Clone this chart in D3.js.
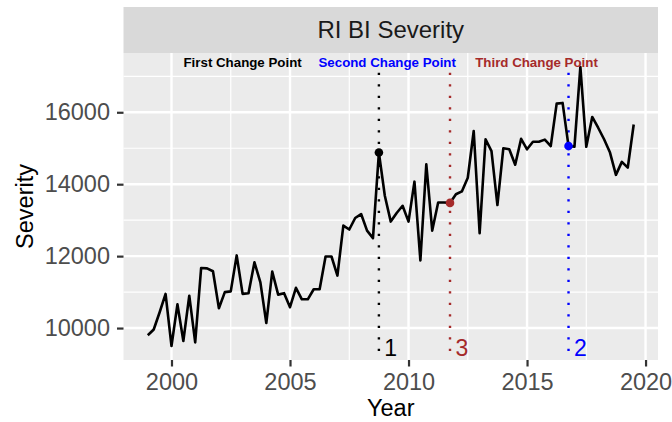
<!DOCTYPE html>
<html><head><meta charset="utf-8">
<script src="https://cdn.jsdelivr.net/npm/d3@7"></script>
<style>
body{margin:0;background:#fff}
svg{display:block}
text{font-family:"Liberation Sans",Arial,Helvetica,sans-serif}
</style>
</head><body>
<svg id="chart" width="672" height="422"></svg>
<script>
// ---- data ----
const years = [
  1999,1999.25,1999.5,1999.75, 2000,2000.25,2000.5,2000.75,
  2001,2001.25,2001.5,2001.75, 2002,2002.25,2002.5,2002.75,
  2003,2003.25,2003.5,2003.75, 2004,2004.25,2004.5,2004.75,
  2005,2005.25,2005.5,2005.75, 2006,2006.25,2006.5,2006.75,
  2007,2007.25,2007.5,2007.75, 2008,2008.25,2008.5,2008.75,
  2009,2009.25,2009.5,2009.75, 2010,2010.25,2010.5,2010.75,
  2011,2011.25,2011.5,2011.75, 2012,2012.25,2012.5,2012.75,
  2013,2013.25,2013.5,2013.75, 2014,2014.25,2014.5,2014.75,
  2015,2015.25,2015.5,2015.75, 2016,2016.25,2016.5,2016.75,
  2017,2017.25,2017.5,2017.75, 2018,2018.25,2018.5,2018.75,
  2019,2019.25,2019.5
];
const severity = [
  9800,9960,10440,10950, 9500,10660,9640,10900,
  9600,11670,11660,11580, 10550,11000,11020,12020,
  10950,10970,11830,11270, 10140,11570,10930,10970,
  10580,11120,10800,10800, 11080,11080,11990,11990,
  11460,12850,12740,13060, 13170,12710,12500,14880,
  13680,12960,13200,13400, 12960,14070,11880,14550,
  12710,13490,13490,13480, 13720,13800,14180,15480,
  12640,15250,14920,13420, 15000,14970,14540,15260,
  14970,15180,15180,15240, 15060,16240,16260,15060,
  15040,17260,15040,15870, 15570,15250,14880,14260,
  14620,14460,15660
];
const xTicks = [2000, 2005, 2010, 2015, 2020];
const xMinor = [2002.5, 2007.5, 2012.5, 2017.5];
const yTicks = [10000, 12000, 14000, 16000];
const yMinor = [11000, 13000, 15000, 17000];

const cpYears  = [2008.75, 2016.75, 2011.75];
const cpValues = [14880, 15060, 13480];
const cpLabels = ["1", "2", "3"];
const cpColors = ["#000000", "#0000FF", "#A52A2A"];
const cpTop = 17100;
const cpLabelValue = 9460;
const cpLabelShift = 0.5;

const noteTexts  = ["First Change Point", "Second Change Point", "Third Change Point"];
const noteYears  = [2003, 2009.1, 2015.4];
const noteColors = ["#000000", "#0000FF", "#A52A2A"];
const noteValue = 17390;

const title = "RI BI Severity";
const xTitle = "Year";
const yTitle = "Severity";

// ---- layout ----
const L = 123.5, R = 658, T = 53, B = 360, stripTop = 7;
const svg = d3.select("#chart");

const xe = d3.extent(years), xp = (xe[1] - xe[0]) * 0.05;
const ye = d3.extent(severity), yp = (ye[1] - ye[0]) * 0.05;
const x = d3.scaleLinear().domain([xe[0] - xp, xe[1] + xp]).range([L, R]);
const y = d3.scaleLinear().domain([ye[0] - yp, ye[1] + yp]).range([B, T]);

// strip
svg.append("rect").attr("x", L).attr("y", stripTop).attr("width", R - L).attr("height", T - stripTop).attr("fill", "#D9D9D9");
svg.append("text").attr("x", (L + R) / 2).attr("y", (stripTop + T) / 2).attr("dy", "0.35em")
  .attr("text-anchor", "middle").attr("font-size", 24).attr("fill", "#1A1A1A").text(title);

// panel
svg.append("rect").attr("x", L).attr("y", T).attr("width", R - L).attr("height", B - T).attr("fill", "#EBEBEB");

const grid = svg.append("g");
grid.selectAll(".xm").data(xMinor).join("line")
  .attr("x1", d => x(d)).attr("x2", d => x(d)).attr("y1", T).attr("y2", B)
  .attr("stroke", "#fff").attr("stroke-width", 1.2);
grid.selectAll(".ym").data(yMinor.filter(v => y(v) >= T && y(v) <= B)).join("line")
  .attr("y1", d => y(d)).attr("y2", d => y(d)).attr("x1", L).attr("x2", R)
  .attr("stroke", "#fff").attr("stroke-width", 1.2);
grid.selectAll(".xM").data(xTicks).join("line")
  .attr("x1", d => x(d)).attr("x2", d => x(d)).attr("y1", T).attr("y2", B)
  .attr("stroke", "#fff").attr("stroke-width", 2.4);
grid.selectAll(".yM").data(yTicks).join("line")
  .attr("y1", d => y(d)).attr("y2", d => y(d)).attr("x1", L).attr("x2", R)
  .attr("stroke", "#fff").attr("stroke-width", 2.4);

// change point segments
const cps = cpYears.map((yr, i) => ({yr, v: cpValues[i], lab: cpLabels[i], col: cpColors[i]}));
svg.append("g").selectAll("line").data(cps).join("line")
  .attr("x1", d => x(d.yr)).attr("x2", d => x(d.yr))
  .attr("y1", y(cpTop)).attr("y2", B)
  .attr("stroke", d => d.col).attr("stroke-width", 2.4)
  .attr("stroke-dasharray", "2.4 9.1");

// series line
const pts = years.map((yr, i) => ({yr, v: severity[i]}));
svg.append("path").datum(pts)
  .attr("d", d3.line().x(d => x(d.yr)).y(d => y(d.v)))
  .attr("fill", "none").attr("stroke", "#000").attr("stroke-width", 2.6)
  .attr("stroke-linejoin", "round");

// change point dots
svg.append("g").selectAll("circle").data(cps).join("circle")
  .attr("cx", d => x(d.yr)).attr("cy", d => y(d.v)).attr("r", 4.3)
  .attr("fill", d => d.col);

// change point numbers
svg.append("g").selectAll("text").data(cps).join("text")
  .attr("x", d => x(d.yr + cpLabelShift)).attr("y", y(cpLabelValue)).attr("dy", "0.35em")
  .attr("text-anchor", "middle").attr("font-size", 23).attr("fill", d => d.col)
  .text(d => d.lab);

// notes
svg.append("g").selectAll("text").data(noteTexts).join("text")
  .attr("x", (d, i) => x(noteYears[i])).attr("y", y(noteValue)).attr("dy", "0.35em")
  .attr("text-anchor", "middle").attr("font-size", 13.3).attr("font-weight", "bold")
  .attr("fill", (d, i) => noteColors[i]).text(d => d);

// axes
const xAxis = svg.append("g").attr("transform", `translate(0,${B})`)
  .call(d3.axisBottom(x).tickValues(xTicks).tickFormat(d3.format("d")).tickSize(6.5).tickPadding(7));
const yAxis = svg.append("g").attr("transform", `translate(${L},0)`)
  .call(d3.axisLeft(y).tickValues(yTicks).tickFormat(d3.format("d")).tickSize(6.5).tickPadding(7));
[xAxis, yAxis].forEach(a => {
  a.select(".domain").remove();
  a.selectAll(".tick line").attr("stroke", "#333333").attr("stroke-width", 2.2);
  a.selectAll(".tick text").attr("fill", "#4D4D4D").attr("font-size", 23.5)
    .attr("font-family", "'Liberation Sans',Arial,Helvetica,sans-serif");
});

// axis titles
svg.append("text").attr("x", (L + R) / 2).attr("y", 416).attr("text-anchor", "middle")
  .attr("font-size", 23.5).attr("fill", "#000").text(xTitle);
svg.append("text").attr("transform", `translate(33,${(T + B) / 2}) rotate(-90)`)
  .attr("text-anchor", "middle").attr("font-size", 23.5).attr("fill", "#000").text(yTitle);
</script>
</body></html>
